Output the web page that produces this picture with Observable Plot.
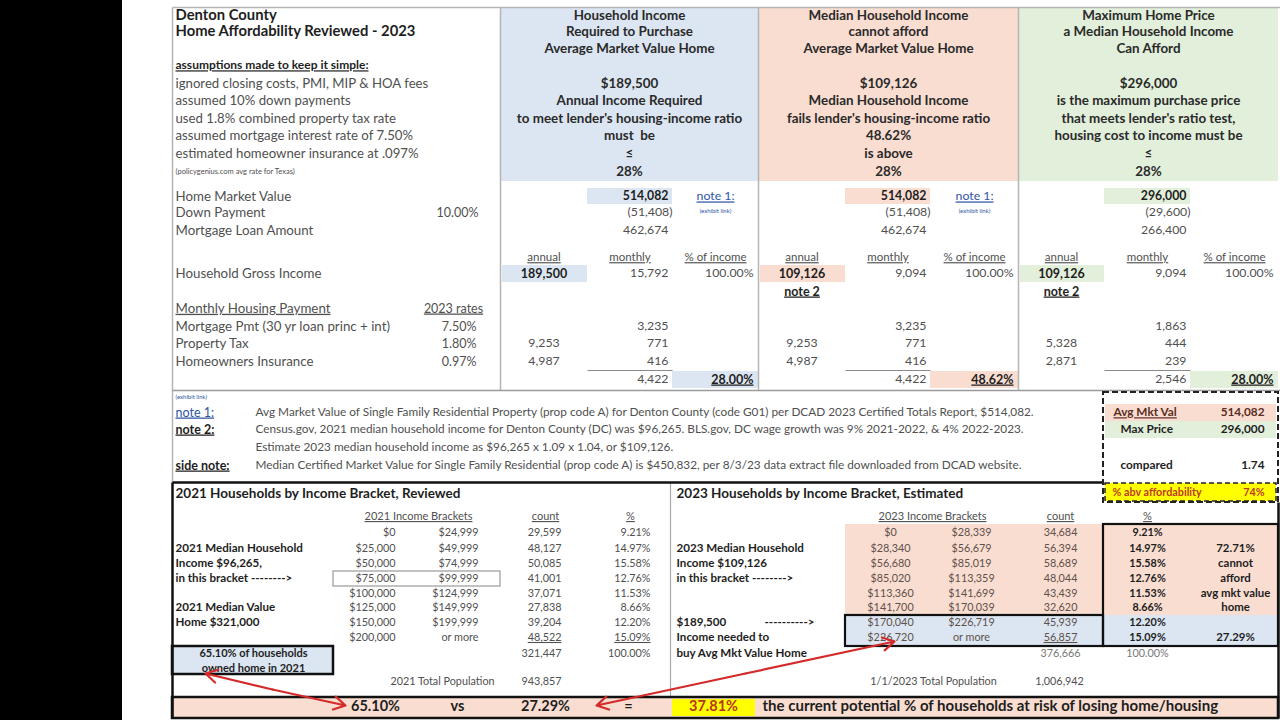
<!DOCTYPE html>
<html><head><meta charset="utf-8">
<script src="https://cdn.jsdelivr.net/npm/d3@7"></script>
<script src="https://cdn.jsdelivr.net/npm/@observablehq/plot@0.6"></script>
<style>
html,body{margin:0;padding:0;background:#fff;}
#chart svg{display:block;}
</style></head><body><div id="chart"></div>
<script>
// ================= DATA =================
const titleLines = ["Denton County", "Home Affordability Reviewed - 2023"];
const assumptionsHead = "assumptions made to keep it simple:";
const assumptions = ["ignored closing costs, PMI, MIP & HOA fees", "assumed 10% down payments", "used 1.8% combined property tax rate", "assumed mortgage interest rate of 7.50%", "estimated homeowner insurance at .097%"];
const assumptionsSource = "(policygenius.com avg rate for Texas)";
const panelHeadBlue = ["Household Income", "Required to Purchase", "Average Market Value Home", "", "$189,500", "Annual Income Required", "to meet lender's housing-income ratio", "must  be", "≤", "28%"];
const panelHeadPeach = ["Median Household Income", "cannot afford", "Average Market Value Home", "", "$109,126", "Median Household Income", "fails lender's housing-income ratio", "48.62%", "is above", "28%"];
const panelHeadGreen = ["Maximum Home Price", "a Median Household Income", "Can Afford", "", "$296,000", "is the maximum purchase price", "that meets lender's ratio test,", "housing cost to income must be", "≤", "28%"];
const valueLabels = ["Home Market Value", "Down Payment", "Mortgage Loan Amount"];
const downPaymentRate = "10.00%";
const homeValue = [514082, 514082, 296000];
const downPayment = [51408, 51408, 29600];
const loanAmount = [462674, 462674, 266400];
const colHeads = ["annual", "monthly", "% of income"];
const incomeLabel = "Household Gross Income";
const annualIncome = [189500, 109126, 109126];
const monthlyIncome = [15792, 9094, 9094];
const incomeShare = ["100.00%", "100.00%", "100.00%"];
const paymentHead = ["Monthly Housing Payment", "2023 rates"];
const paymentLabels = ["Mortgage Pmt (30 yr loan princ + int)", "Property Tax", "Homeowners Insurance"];
const rates2023 = ["7.50%", "1.80%", "0.97%"];
const mortgageMonthly = [3235, 3235, 1863];
const taxAnnual = [9253, 9253, 5328];
const taxMonthly = [771, 771, 444];
const insAnnual = [4987, 4987, 2871];
const insMonthly = [416, 416, 239];
const housingTotal = [4422, 4422, 2546];
const housingRatio = ["28.00%", "48.62%", "28.00%"];
const noteLabels = ["note 1:", "note 2:", "", "side note:"];
const noteTexts = [
  "Avg Market Value of Single Family Residential Property (prop code A) for Denton County (code G01) per DCAD 2023 Certified Totals Report, $514,082.",
  "Census.gov, 2021 median household income for Denton County (DC) was $96,265. BLS.gov, DC wage growth was 9% 2021-2022, & 4% 2022-2023.",
  "Estimate 2023 median household income as $96,265 x 1.09 x 1.04, or $109,126.",
  "Median Certified Market Value for Single Family Residential (prop code A) is $450,832, per 8/3/23 data extract file downloaded from DCAD website."
];
const summaryLabels = ["Avg Mkt Val", "Max Price", "compared", "% abv affordability"];
const summaryValues = ["514,082", "296,000", "1.74", "74%"];

const head2021 = "2021 Households by Income Bracket, Reviewed";
const head2023 = "2023 Households by Income Bracket, Estimated";
const low2021 = ["$0", "$25,000", "$50,000", "$75,000", "$100,000", "$125,000", "$150,000", "$200,000"];
const high2021 = ["$24,999", "$49,999", "$74,999", "$99,999", "$124,999", "$149,999", "$199,999", "or more"];
const count2021 = [29599, 48127, 50085, 41001, 37071, 27838, 39204, 48522];
const pct2021 = ["9.21%", "14.97%", "15.58%", "12.76%", "11.53%", "8.66%", "12.20%", "15.09%"];
const total2021 = [321447, "100.00%"];
const pop2021 = ["2021 Total Population", 943857];
const side2021 = ["", "2021 Median Household", "Income $96,265,", "in this bracket -------->", "", "2021 Median Value", "Home $321,000", ""];
const owned2021 = ["65.10% of households", "owned home in 2021"];
const low2023 = ["$0", "$28,340", "$56,680", "$85,020", "$113,360", "$141,700", "$170,040", "$226,720"];
const high2023 = ["$28,339", "$56,679", "$85,019", "$113,359", "$141,699", "$170,039", "$226,719", "or more"];
const count2023 = [34684, 56394, 58689, 48044, 43439, 32620, 45939, 56857];
const pct2023 = ["9.21%", "14.97%", "15.58%", "12.76%", "11.53%", "8.66%", "12.20%", "15.09%"];
const total2023 = [376666, "100.00%"];
const pop2023 = ["1/1/2023 Total Population", 1006942];
const side2023 = ["", "2023 Median Household", "Income $109,126", "in this bracket -------->", "", "", "$189,500", "Income needed to", "buy Avg Mkt Value Home"];
const verdict2023 = ["", "72.71%", "cannot", "afford", "avg mkt value", "home", "", "27.29%"];
const bottomLine = ["65.10%", "vs", "27.29%", "=", "37.81%", "the current potential % of households at risk of losing home/housing"];

// ================= LAYOUT =================
const TOP = [15,31,48,65,83,100,118,135,153,171,196,212,230,257,273,291,308,326,343,361,379,397,412,429,447,465];
const BOT = [493,516,532,548,563,578,593,607,622,637,653,668,681,706];
const PANEL = [[500,587,672,758],[758,845,930,1018],[1018,1104,1190,1278]];
const PANEL_FILL = ["#dce6f2", "#f9ddd1", "#e2efda"];
const fmt = d3.format(",");
const DARK = "#1e1e1e", GRAY = "#505050", LINK = "#2f55a4";

const cells = [];
function put(text, x, y, o = {}) {
  if (text === "" || text == null) return;
  cells.push({text: String(text), x, y, anchor: o.a || "start", bold: !!o.b, size: o.s || 13.3, color: o.c || (o.b ? DARK : GRAY), u: !!o.u});
}
const fills = [], boxes = [], rules = [];
function fill(x1, x2, y1, y2, c) { fills.push({x1, x2, y1, y2, c}); }
function box(x1, x2, y1, y2, c, w, dash) { boxes.push({x1, x2, y1, y2, c, w, dash: dash || "none"}); }
function rule(x1, y1, x2, y2, c, w) { rules.push({x1, y1, x2, y2, c, w}); }

// page backdrop
fill(0, 122, 0, 720, "#000");

// --- top-left block
put(titleLines[0], 175, TOP[0], {b: 1, s: 14.8});
put(titleLines[1], 175, TOP[1], {b: 1, s: 14.8});
put(assumptionsHead, 175, TOP[3], {b: 1, s: 12, u: 1});
assumptions.forEach((t, i) => put(t, 175, TOP[4 + i], {s: 13.2}));
put(assumptionsSource, 175, TOP[9], {s: 7.5});

// --- panels
[panelHeadBlue, panelHeadPeach, panelHeadGreen].forEach((lines, k) => {
  const p = PANEL[k], cx = (p[0] + p[3]) / 2;
  fill(p[0], p[3], 7, 181, PANEL_FILL[k]);
  lines.forEach((t, i) => put(t, cx, TOP[i], {a: "middle", b: 1, s: 13.4, c: "#2a2a2a"}));
});
valueLabels.forEach((t, i) => put(t, 175, TOP[10 + i]));
put(downPaymentRate, 478, TOP[11], {a: "end", s: 12.5});
put(incomeLabel, 175, TOP[14]);
put(paymentHead[0], 175, TOP[16], {u: 1});
put(paymentHead[1], 453, TOP[16], {a: "middle", u: 1, s: 12.5});
paymentLabels.forEach((t, i) => { put(t, 175, TOP[17 + i]); put(rates2023[i], 476, TOP[17 + i], {a: "end", s: 12.5}); });

PANEL.forEach((p, k) => {
  const cA = (p[0] + p[1]) / 2, rM = p[2] - 4, cP = (p[2] + p[3]) / 2, rP = p[3] - 5;
  fill(p[1], p[2], 188, 204, PANEL_FILL[k]);
  fill(p[0] + 2, p[1], 265, 282, PANEL_FILL[k]);
  fill(p[2], p[3], 371, 388, PANEL_FILL[k]);
  put(fmt(homeValue[k]), rM, TOP[10], {a: "end", b: 1, s: 12.3});
  put(`(${fmt(downPayment[k])})`, rM + 4, TOP[11], {a: "end", s: 12.3});
  put(fmt(loanAmount[k]), rM, TOP[12], {a: "end", s: 12.3});
  if (k < 2) {
    put("note 1:", cP, TOP[10], {a: "middle", u: 1, s: 12.3, c: LINK});
    put("(exhibit link)", cP, TOP[11] - 1, {a: "middle", s: 6, c: LINK});
  }
  colHeads.forEach((t, j) => put(t, [cA, (p[1] + p[2]) / 2, cP][j], TOP[13], {a: "middle", s: 11.5, u: 1}));
  put(fmt(annualIncome[k]), cA, TOP[14], {a: "middle", b: 1, s: 12.5});
  put(fmt(monthlyIncome[k]), rM, TOP[14], {a: "end", s: 12.3});
  put(incomeShare[k], rP, TOP[14], {a: "end", s: 12.3});
  if (k > 0) put("note 2", cA, TOP[15], {a: "middle", b: 1, u: 1, s: 12.5});
  put(fmt(mortgageMonthly[k]), rM, TOP[17], {a: "end", s: 12.3});
  put(fmt(taxAnnual[k]), cA, TOP[18], {a: "middle", s: 12.3});
  put(fmt(taxMonthly[k]), rM, TOP[18], {a: "end", s: 12.3});
  put(fmt(insAnnual[k]), cA, TOP[19], {a: "middle", s: 12.3});
  put(fmt(insMonthly[k]), rM, TOP[19], {a: "end", s: 12.3});
  put(fmt(housingTotal[k]), rM, TOP[20], {a: "end", s: 12.3});
  put(housingRatio[k], rP, TOP[20], {a: "end", b: 1, u: 1, s: 12.5});
  rule(p[1], 370, p[2], 370, "#8a8a8a", 1);
});

// --- top grid lines
rule(172, 7, 1280, 7, "#b5b5b5", 1.5);
rule(172, 7, 172, 482, "#b5b5b5", 1.5);
PANEL.forEach(p => rule(p[0], 7, p[0], 390, "#b5b5b5", 1.5));
rule(172, 390, 1280, 390, "#9a9a9a", 1.5);

// --- notes
put("(exhibit link)", 175, TOP[21], {s: 6, c: LINK});
noteLabels.forEach((t, i) => put(t, 175, TOP[22 + i], {b: i > 0, u: 1, s: 12.5, c: i === 0 ? LINK : DARK}));
noteTexts.forEach((t, i) => put(t, 255, TOP[22 + i], {s: 11.8}));

// --- summary dashed box
fill(1105, 1276, 404, 421, PANEL_FILL[1]);
fill(1105, 1276, 421, 438, PANEL_FILL[2]);
fill(1105, 1276, 483, 501, "#ffff00");
box(1103, 1278, 392, 502, "#222", 2, "6,3");
box(1105, 1276, 483, 501, "#222", 1.5, "5,3");
const sumY = [412, 429, 465, 492], sumX = [1113, 1120, 1120, 1112];
summaryLabels.forEach((t, i) => {
  const c = i === 3 ? "#c0392b" : i === 0 ? "#5a2e22" : DARK;
  put(t, sumX[i], sumY[i], {b: 1, s: i === 3 ? 10.8 : 11.8, u: i === 0, c});
  put(summaryValues[i], 1264, sumY[i], {a: "end", b: 1, s: i === 3 ? 10.8 : 11.8, c});
});

// --- bottom tables
put(head2021, 175, BOT[0], {b: 1, s: 13.5});
put(head2023, 676, BOT[0], {b: 1, s: 13.5});
put("2021 Income Brackets", 418, BOT[1], {a: "middle", s: 11, u: 1});
put("count", 545, BOT[1], {a: "middle", s: 11, u: 1});
put("%", 630, BOT[1], {a: "middle", s: 11, u: 1});
put("2023 Income Brackets", 932, BOT[1], {a: "middle", s: 11, u: 1});
put("count", 1060, BOT[1], {a: "middle", s: 11, u: 1});
put("%", 1147, BOT[1], {a: "middle", s: 11, u: 1});
fill(845, 1278, 524, 615, PANEL_FILL[1]);
fill(845, 1278, 615, 646, PANEL_FILL[0]);
low2021.forEach((t, i) => {
  const y = BOT[2 + i], last = i === 7;
  put(t, 395, y, {a: "end", s: 10.8});
  put(high2021[i], 478, y, {a: "end", s: 10.8});
  put(fmt(count2021[i]), 561, y, {a: "end", s: 10.8, u: last});
  put(pct2021[i], 650, y, {a: "end", s: 10.8, u: last});
  put(low2023[i], 890, y, {a: "middle", s: 10.8, c: "#5e504a"});
  put(high2023[i], 971, y, {a: "middle", s: 10.8, c: "#5e504a"});
  put(fmt(count2023[i]), 1060, y, {a: "middle", s: 10.8, u: last, c: "#5e504a"});
  put(pct2023[i], 1147, y, {a: "middle", b: 1, s: 10.8});
});
put(fmt(total2021[0]), 561, BOT[10], {a: "end", s: 10.8});
put(total2021[1], 650, BOT[10], {a: "end", s: 10.8});
put(fmt(total2023[0]), 1060, BOT[10], {a: "middle", s: 10.8, c: "#777"});
put(total2023[1], 1147, BOT[10], {a: "middle", s: 10.8, c: "#777"});
put(pop2021[0], 442, BOT[12], {a: "middle", s: 10.8});
put(fmt(pop2021[1]), 561, BOT[12], {a: "end", s: 10.8});
put(pop2023[0], 933, BOT[12], {a: "middle", s: 10.8});
put(fmt(pop2023[1]), 1059, BOT[12], {a: "middle", s: 10.8});
side2021.forEach((t, i) => put(t, 175, BOT[2 + i], {b: 1, s: 11.6}));
side2023.forEach((t, i) => put(t, 676, BOT[2 + i], {b: 1, s: 11.6}));
put("---------->", 789, BOT[8], {a: "middle", b: 1, s: 11.6});
verdict2023.forEach((t, i) => put(t, 1235, BOT[2 + i], {a: "middle", b: 1, s: 11.4}));
box(333, 500, 571, 586, "#999", 1.2);
fill(172, 333, 646, 674, "#dce6f2");
owned2021.forEach((t, i) => put(t, 253, BOT[10 + i], {a: "middle", b: 1, s: 11}));
box(172, 333, 646, 674, "#111", 2.5);
box(845, 1103, 615, 646, "#111", 2.2);
box(1103, 1278, 524, 646, "#111", 2.2);
rule(670, 482, 670, 697, "#aaa", 1.2);
rule(172, 482, 1103, 482, "#111", 2.5);
rule(172, 482, 172, 718, "#111", 2.5);
rule(1278, 502, 1278, 718, "#111", 2.5);

// --- bottom line
fill(172, 1278, 697, 718, "#f9ddd1");
fill(672, 755, 699, 716, "#ffff00");
box(172, 1278, 697, 718, "#111", 2.5);
const blX = [375, 457, 545, 628, 713, 762];
bottomLine.forEach((t, i) => put(t, blX[i], BOT[13], {a: i === 5 ? "start" : "middle", b: 1, s: i === 5 ? 15 : 14.5, c: i === 4 ? "#b5341f" : DARK}));

// --- arrows (between cells)
const links = [
  {x1: 272, y1: 689, x2: 205, y2: 673}, {x1: 272, y1: 689, x2: 345, y2: 705},
  {x1: 745, y1: 673, x2: 596, y2: 705}, {x1: 745, y1: 673, x2: 894, y2: 641}
];

// ================= PLOT =================
const textMarks = [];
for (const a of ["start", "middle", "end"]) for (const b of [false, true]) for (const u of [false, true]) {
  const sub = cells.filter(d => d.anchor === a && d.bold === b && d.u === u);
  if (!sub.length) continue;
  textMarks.push(Plot.text(sub, {x: "x", y: "y", text: "text", textAnchor: a, fontWeight: b ? "bold" : "normal",
    fontSize: d => d.size, fill: d => d.color, ariaDescription: u ? "u" : "t"}));
}
const dashGroups = d3.groups(boxes, d => d.dash + "|" + d.w);
const chart = Plot.plot({
  width: 1280, height: 720, margin: 0,
  x: {type: "linear", domain: [0, 1280], range: [0, 1280], axis: null},
  y: {type: "linear", domain: [0, 720], range: [0, 720], axis: null},
  style: {fontFamily: "Lato, 'Open Sans', sans-serif", background: "#fff"},
  marks: [
    Plot.rect(fills, {x1: "x1", x2: "x2", y1: "y1", y2: "y2", fill: d => d.c}),
    ...d3.groups(rules, d => d.w).map(([w, g]) => Plot.link(g, {x1: "x1", y1: "y1", x2: "x2", y2: "y2", stroke: d => d.c, strokeWidth: w})),
    ...dashGroups.map(([key, g]) => Plot.rect(g, {x1: "x1", x2: "x2", y1: "y1", y2: "y2", fill: "none", stroke: d => d.c,
      strokeWidth: g[0].w, strokeDasharray: g[0].dash === "none" ? null : g[0].dash})),
    ...textMarks,
    Plot.arrow(links, {x1: "x1", y1: "y1", x2: "x2", y2: "y2", stroke: "#d42a2a", strokeWidth: 2.2, headLength: 9})
  ]
});
d3.select(chart).selectAll('g[aria-description="u"] text').style("text-decoration", "underline");
document.getElementById("chart").append(chart);
</script></body></html>
